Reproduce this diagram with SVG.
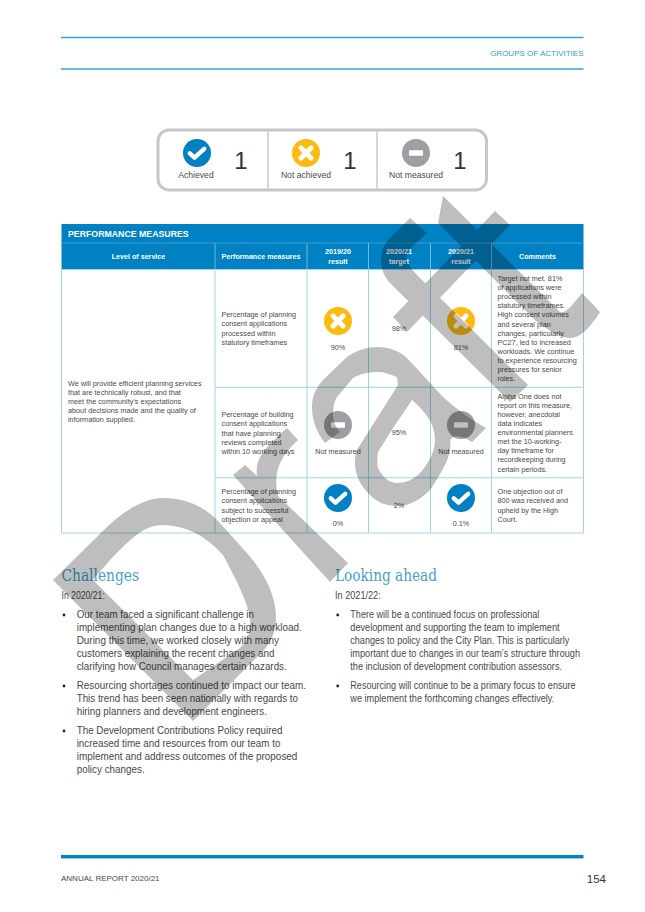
<svg xmlns="http://www.w3.org/2000/svg" xmlns:xlink="http://www.w3.org/1999/xlink" width="645" height="912" viewBox="0 0 645 912">
<style>
text{font-family:"Liberation Sans",Arial,sans-serif;fill:#4a4a4c}
.t{font-size:7.25px}
.m{text-anchor:middle}
.h{font-size:7.15px;font-weight:bold;fill:#fff;text-anchor:middle}
.b{font-size:10.2px;fill:#48484a}
.hd{font-family:"DejaVu Serif",serif;font-size:16px;fill:#459fd1;font-weight:normal}
.s{font-size:8.6px}
.n{font-size:24px;fill:#333;text-anchor:middle}
.g{fill:none;stroke:#9fd4ea;stroke-width:1}
.box{fill:none;stroke:#c6c7c9}
</style>
<defs>
<g id="ok"><circle r="14" fill="#0081c3"/><path d="M-7.2,0.3L-2.5,4.6L7.2,-4.2" fill="none" stroke="#fff" stroke-width="4.4" stroke-linecap="round" stroke-linejoin="round"/></g>
<g id="no"><circle r="14" fill="#fdbb12"/><path d="M-5,-5L5,5M5,-5L-5,5" fill="none" stroke="#fff" stroke-width="5" stroke-linecap="round"/></g>
<g id="na"><circle r="14" fill="#9d9fa2"/><rect x="-7" y="-2.7" width="14" height="5.4" rx="1" fill="#fff"/></g>
</defs>
<rect width="645" height="912" fill="#fff"/>

<g id="page-header">
<path d="M61,37.5H583.5M61,69H583.5" stroke="#2fa6dc" stroke-width="1.3" fill="none"/>
<text x="583.5" y="55.7" text-anchor="end" style="font-size:8px;fill:#2a9fd8">GROUPS OF ACTIVITIES</text>
</g>

<g id="summary">
<rect class="box" x="158" y="130" width="328.5" height="60" rx="11" stroke-width="3"/>
<path class="box" d="M268,130V190M377,130V190" stroke-width="1.4"/>
<g id="achieved"><use xlink:href="#ok" href="#ok" x="197" y="153"/><text class="s m" x="196" y="178.3">Achieved</text><text class="n" x="241" y="168.7">1</text></g>
<g id="not-achieved"><use xlink:href="#no" href="#no" x="306" y="153"/><text class="s m" x="306" y="178.3">Not achieved</text><text class="n" x="350" y="168.7">1</text></g>
<g id="not-measured"><use xlink:href="#na" href="#na" x="416" y="153"/><text class="s m" x="416" y="178.3">Not measured</text><text class="n" x="460" y="168.7">1</text></g>
</g>

<g id="table">
<rect x="61.5" y="224" width="522" height="45.5" fill="#0081c3"/>
<path d="M61.5,243H583.5" stroke="#4aa6d6" stroke-width=".8"/>
<path d="M215,243V269.5M307,243V269.5M368.5,243V269.5M430.5,243V269.5M491.5,243V269.5" stroke="#8cc8e6" stroke-width=".8"/>
<path class="g" d="M61.5,269.5V533H583.5V269.5M61.5,269.5H583.5M215,269.5V533M307,269.5V533M368.5,269.5V533M430.5,269.5V533M491.5,269.5V533M215,387.3H583.5M215,477.8H583.5"/>
<text x="68" y="236.7" textLength="120.7" lengthAdjust="spacingAndGlyphs" style="font-size:9.2px;font-weight:bold;fill:#fff">PERFORMANCE MEASURES</text>
<text class="h" x="138.5" y="258.7">Level of service</text>
<text class="h" x="261" y="258.7">Performance measures</text>
<text class="h" x="338" y="254">2019/20</text><text class="h" x="338" y="263.5">result</text>
<text class="h" x="399" y="254">2020/21</text><text class="h" x="399" y="263.5">target</text>
<text class="h" x="461" y="254">2020/21</text><text class="h" x="461" y="263.5">result</text>
<text class="h" x="537.5" y="258.7">Comments</text>

<g id="level-of-service" class="t">
<text class="t" x="68" y="385.7">We will provide efficient planning services</text>
<text class="t" x="68" y="394.8">that are technically robust, and that</text>
<text class="t" x="68" y="404">meet the community’s expectations</text>
<text class="t" x="68" y="413">about decisions made and the quality of</text>
<text class="t" x="68" y="422.2">information supplied.</text>
</g>
<g id="row-1">
<text class="t" x="221.5" y="317.3">Percentage of planning</text>
<text class="t" x="221.5" y="326.4">consent applications</text>
<text class="t" x="221.5" y="335.5">processed within</text>
<text class="t" x="221.5" y="344.7">statutory timeframes</text>
<use xlink:href="#no" href="#no" x="338" y="321"/><text class="t m" x="338" y="349.5">90%</text>
<text class="t m" x="399" y="330.7">98%</text>
<use xlink:href="#no" href="#no" x="461" y="321"/><text class="t m" x="461" y="349.5">81%</text>
<text class="t" x="497.5" y="281">Target not met. 81%</text>
<text class="t" x="497.5" y="290.1">of applications were</text>
<text class="t" x="497.5" y="299.2">processed within</text>
<text class="t" x="497.5" y="308.3">statutory timeframes.</text>
<text class="t" x="497.5" y="317.4">High consent volumes</text>
<text class="t" x="497.5" y="326.5">and several plan</text>
<text class="t" x="497.5" y="335.6">changes, particularly</text>
<text class="t" x="497.5" y="344.7">PC27, led to increased</text>
<text class="t" x="497.5" y="353.8">workloads. We continue</text>
<text class="t" x="497.5" y="362.9">to experience resourcing</text>
<text class="t" x="497.5" y="372">pressures for senior</text>
<text class="t" x="497.5" y="381.1">roles.</text>
</g>
<g id="row-2">
<text class="t" x="221.5" y="417.3">Percentage of building</text>
<text class="t" x="221.5" y="426.4">consent applications</text>
<text class="t" x="221.5" y="435.5">that have planning</text>
<text class="t" x="221.5" y="444.6">reviews completed</text>
<text class="t" x="221.5" y="453.7">within 10 working days</text>
<use xlink:href="#na" href="#na" x="338" y="425"/><text class="t m" x="338" y="453.7">Not measured</text>
<text class="t m" x="399" y="435">95%</text>
<use xlink:href="#na" href="#na" x="461" y="425"/><text class="t m" x="461" y="453.7">Not measured</text>
<text class="t" x="497.5" y="398.7">Alpha One does not</text>
<text class="t" x="497.5" y="407.8">report on this measure,</text>
<text class="t" x="497.5" y="416.9">however, anecdotal</text>
<text class="t" x="497.5" y="426">data indicates</text>
<text class="t" x="497.5" y="435.1">environmental planners</text>
<text class="t" x="497.5" y="444.2">met the 10-working-</text>
<text class="t" x="497.5" y="453.3">day timeframe for</text>
<text class="t" x="497.5" y="462.4">recordkeeping during</text>
<text class="t" x="497.5" y="471.5">certain periods.</text>
</g>
<g id="row-3">
<text class="t" x="221.5" y="494.3">Percentage of planning</text>
<text class="t" x="221.5" y="503.4">consent applications</text>
<text class="t" x="221.5" y="512.6">subject to successful</text>
<text class="t" x="221.5" y="521.7">objection or appeal</text>
<use xlink:href="#ok" href="#ok" x="338" y="498"/><text class="t m" x="338" y="526.3">0%</text>
<text class="t m" x="399" y="507.7">2%</text>
<use xlink:href="#ok" href="#ok" x="461" y="498"/><text class="t m" x="461" y="526.3">0.1%</text>
<text class="t" x="497.5" y="494.3">One objection out of</text>
<text class="t" x="497.5" y="503.4">800 was received and</text>
<text class="t" x="497.5" y="512.6">upheld by the High</text>
<text class="t" x="497.5" y="521.7">Court.</text>
</g>
</g>

<g id="challenges">
<text class="hd" x="61.5" y="581" textLength="77.5" lengthAdjust="spacingAndGlyphs">Challenges</text>
<text class="b" x="61.5" y="599" textLength="43.3" lengthAdjust="spacingAndGlyphs">In 2020/21:</text>
<circle cx="64" cy="615" r="1.4" fill="#222"/>
<text class="b" x="76.7" y="617.7" textLength="177.3" lengthAdjust="spacingAndGlyphs">Our team faced a significant challenge in</text>
<text class="b" x="76.7" y="630.7" textLength="225" lengthAdjust="spacingAndGlyphs">implementing plan changes due to a high workload.</text>
<text class="b" x="76.7" y="643.7" textLength="202.3" lengthAdjust="spacingAndGlyphs">During this time, we worked closely with many</text>
<text class="b" x="76.7" y="656.7" textLength="197.7" lengthAdjust="spacingAndGlyphs">customers explaining the recent changes and</text>
<text class="b" x="76.7" y="669.7" textLength="210" lengthAdjust="spacingAndGlyphs">clarifying how Council manages certain hazards.</text>
<circle cx="64" cy="686" r="1.4" fill="#222"/>
<text class="b" x="76.7" y="688.7" textLength="229.3" lengthAdjust="spacingAndGlyphs">Resourcing shortages continued to impact our team.</text>
<text class="b" x="76.7" y="701.7" textLength="221.3" lengthAdjust="spacingAndGlyphs">This trend has been seen nationally with regards to</text>
<text class="b" x="76.7" y="714.7" textLength="190.3" lengthAdjust="spacingAndGlyphs">hiring planners and development engineers.</text>
<circle cx="64" cy="731" r="1.4" fill="#222"/>
<text class="b" x="76.7" y="733.7" textLength="205.7" lengthAdjust="spacingAndGlyphs">The Development Contributions Policy required</text>
<text class="b" x="76.7" y="746.7" textLength="203.7" lengthAdjust="spacingAndGlyphs">increased time and resources from our team to</text>
<text class="b" x="76.7" y="759.7" textLength="220.7" lengthAdjust="spacingAndGlyphs">implement and address outcomes of the proposed</text>
<text class="b" x="76.7" y="772.7" textLength="68" lengthAdjust="spacingAndGlyphs">policy changes.</text>
</g>

<g id="looking-ahead">
<text class="hd" x="335" y="581" textLength="102" lengthAdjust="spacingAndGlyphs">Looking ahead</text>
<text class="b" x="335" y="599" textLength="45.7" lengthAdjust="spacingAndGlyphs">In 2021/22:</text>
<circle cx="337.7" cy="615" r="1.4" fill="#222"/>
<text class="b" x="350.3" y="617.7" textLength="189" lengthAdjust="spacingAndGlyphs">There will be a continued focus on professional</text>
<text class="b" x="350.3" y="630.7" textLength="209.3" lengthAdjust="spacingAndGlyphs">development and supporting the team to implement</text>
<text class="b" x="350.3" y="643.7" textLength="219" lengthAdjust="spacingAndGlyphs">changes to policy and the City Plan. This is particularly</text>
<text class="b" x="350.3" y="656.7" textLength="229.7" lengthAdjust="spacingAndGlyphs">important due to changes in our team’s structure through</text>
<text class="b" x="350.3" y="669.7" textLength="211.7" lengthAdjust="spacingAndGlyphs">the inclusion of development contribution assessors.</text>
<circle cx="337.7" cy="686" r="1.4" fill="#222"/>
<text class="b" x="350.3" y="688.7" textLength="225.3" lengthAdjust="spacingAndGlyphs">Resourcing will continue to be a primary focus to ensure</text>
<text class="b" x="350.3" y="701.7" textLength="204" lengthAdjust="spacingAndGlyphs">we implement the forthcoming changes effectively.</text>
</g>

<g id="page-footer">
<rect x="61" y="855" width="522.5" height="3.4" fill="#0081c3"/>
<text x="61" y="881" style="font-size:8px">ANNUAL REPORT 2020/21</text>
<text x="606" y="883" text-anchor="end" style="font-size:11.5px;fill:#333">154</text>
</g>

<g id="watermark" opacity=".25" fill="#000" fill-rule="evenodd">
<path d="M53,580L107,527C125,510 145,498 163,498C185,498 203,506 217,520L247,553C262,570 275,592 276,615C276,630 272,642 262,652L193,721ZM93,580L193,680L240,648C248,640 251,630 250,620C249,608 243,592 223,555C205,535 185,525 162,525C145,525 128,538 93,580Z"/>
<path d="M233,475L245,465L257,476C255,460 262,450 287,428L298,440C282,455 272,470 278,496L348,563L330,582Z"/>
<path d="M325,443C315,430 312,418 312,407C312,396 316,388 323,380L347,357C357,350 367,347 378,347C390,347 399,351 407,358L443,397C455,408 470,419 486,428L472,442C464,437 456,433 450,440C452,452 447,465 430,490C420,500 409,506 398,506C385,506 377,502 370,495C360,485 355,475 355,463C355,455 356,450 360,445L398,385L397,377C390,374 384,372 378,372C368,372 360,374 353,378L337,397C333,404 333,410 333,417C334,423 336,428 340,432ZM412,400L393,428L378,452C377,458 377,463 378,468C383,478 390,483 397,483C405,483 412,480 418,475C428,465 434,453 435,442C435,435 434,430 432,425C428,415 420,407 412,400Z"/>
<path d="M410,218L388,240C378,252 378,272 392,285L510,402L528,385L420,278C405,263 403,255 412,247L427,233Z"/>
<path d="M393,317L407,332L510,225L495,211Z"/>
<path d="M443,196L560,312C566,314 573,304 582,293L600,312C590,328 580,338 570,338C560,338 548,330 535,320L438,223Z"/>
</g>
</svg>
